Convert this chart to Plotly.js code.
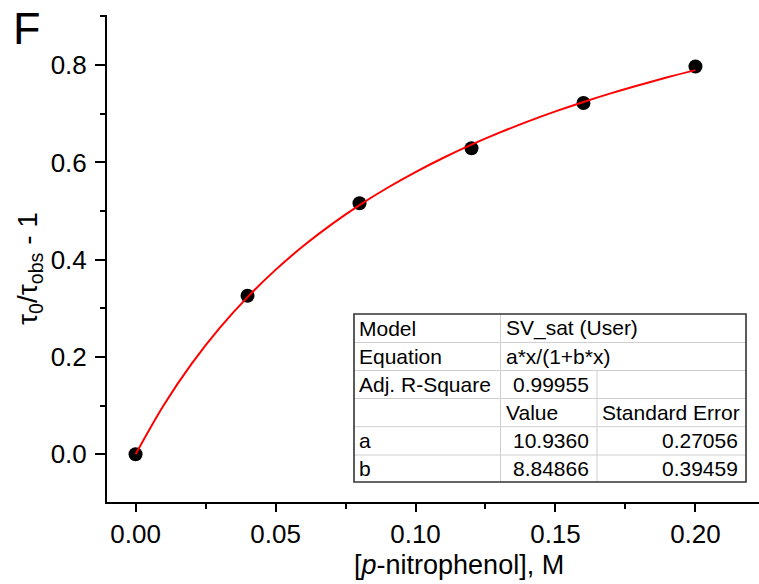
<!DOCTYPE html>
<html>
<head>
<meta charset="utf-8">
<script src="https://cdn.plot.ly/plotly-3.0.1.min.js"></script>
<style>html,body{margin:0;padding:0;background:#fff;}#chart{width:759px;height:584px;}</style>
</head>
<body>
<div id="chart"></div>
<script>
// ---- data ----
const concentration = [0, 0.04, 0.08, 0.12, 0.16, 0.20];
const lifetimeRatio = [0, 0.326, 0.516, 0.629, 0.722, 0.797];

const fitX = [0, 0.01, 0.02, 0.03, 0.04, 0.05, 0.06, 0.07, 0.08, 0.09, 0.10,
              0.11, 0.12, 0.13, 0.14, 0.15, 0.16, 0.17, 0.18, 0.19, 0.20];
const fitY = [0, 0.1005, 0.1858, 0.2593, 0.3231, 0.3791, 0.4286, 0.4727, 0.5123, 0.5479, 0.5802,
              0.6096, 0.6365, 0.6611, 0.6839, 0.7049, 0.7243, 0.7424, 0.7592, 0.7750, 0.7897];

const tableCol1 = ["Model", "Equation", "Adj. R-Square", "", "a", "b"];
const tableCol2 = ["SV_sat (User)", "a*x/(1+b*x)", "0.99955", "Value", "10.9360", "8.84866"];
const tableCol3 = ["", "", "", "Standard Error", "0.27056", "0.39459"];

// ---- layout geometry (pixels) ----
const W = 759, H = 584;
const L = 107, R = 759, T = 15, B = 502;
const px = v => (v - L) / (R - L);
const py = v => (B - v) / (B - T);

const FONT = "Liberation Sans, Arial, sans-serif";

// table geometry
const tLeft = 354, tRight = 746, tCol2 = 500.5, tCol3 = 597;
const rowEdges = [314, 342.5, 370.5, 398.5, 426.7, 455, 482];

const shapes = [];
const annotations = [];
const inner = {color: "#cfcfcf", width: 1};
const outer = {color: "#333333", width: 1.6};
function line(x0, y0, x1, y1, st) {
  shapes.push({type: "line", xref: "paper", yref: "paper",
    x0: px(x0), y0: py(y0), x1: px(x1), y1: py(y1), line: st, layer: "above"});
}
for (let i = 1; i < rowEdges.length - 1; i++) line(tLeft, rowEdges[i], tRight, rowEdges[i], inner);
line(tCol2, rowEdges[0], tCol2, rowEdges[6], inner);
line(tCol3, rowEdges[2], tCol3, rowEdges[6], inner);
shapes.push({type: "rect", xref: "paper", yref: "paper",
  x0: px(tLeft), y0: py(rowEdges[6]), x1: px(tRight), y1: py(rowEdges[0]),
  line: outer, fillcolor: "rgba(0,0,0,0)", layer: "above"});

const isNum = s => /^[0-9.]+$/.test(s);
function cell(text, left, right, r) {
  if (!text) return;
  const yc = (rowEdges[r] + rowEdges[r + 1]) / 2;
  const num = isNum(text);
  annotations.push({xref: "paper", yref: "paper", showarrow: false,
    x: num ? px(right - 6) : px(left + 3), xanchor: num ? "right" : "left",
    y: py(yc), yanchor: "middle", text: text,
    font: {family: FONT, size: 21, color: "#000"}});
}
for (let r = 0; r < 6; r++) {
  cell(tableCol1[r], tLeft, tCol2, r);
  cell(tableCol2[r], tCol2, r < 2 ? tRight : tCol3, r);
  cell(tableCol3[r], tCol3, tRight, r);
}

annotations.push({xref: "paper", yref: "paper", showarrow: false, x: px(27), y: py(29),
  xanchor: "center", yanchor: "middle", text: "F", font: {family: FONT, size: 45, color: "#000"}});
annotations.push({xref: "paper", yref: "paper", showarrow: false, x: px(459), y: py(565),
  xanchor: "center", yanchor: "middle", text: "[<i>p</i>-nitrophenol], M",
  font: {family: FONT, size: 27, color: "#000"}});
annotations.push({xref: "paper", yref: "paper", showarrow: false, x: px(29), y: py(269),
  xanchor: "center", yanchor: "middle", textangle: -90,
  text: "τ<sub>0</sub>/τ<sub>obs</sub> - 1",
  font: {family: FONT, size: 28, color: "#000"}});

const traces = [
  {x: concentration, y: lifetimeRatio, type: "scatter", mode: "markers",
   marker: {color: "#000", size: 14}, hoverinfo: "skip"},
  {x: fitX, y: fitY, type: "scatter", mode: "lines", line: {color: "#ff0000", width: 2, shape: "spline"},
   hoverinfo: "skip"}
];

const axisCommon = {showgrid: false, zeroline: false, showline: true, linecolor: "#000", linewidth: 2,
  ticks: "outside", tickcolor: "#000", tickwidth: 2, tickfont: {family: FONT, size: 26, color: "#000"}};

const layout = {
  width: W, height: H, showlegend: false,
  paper_bgcolor: "#fff", plot_bgcolor: "#fff",
  margin: {l: L, r: W - R, t: T, b: H - B, pad: 0},
  xaxis: Object.assign({}, axisCommon, {range: [-0.0102, 0.2227], dtick: 0.05, tick0: 0, tickformat: ".2f",
    ticklen: 8, minor: {dtick: 0.025, tick0: 0, ticklen: 5, tickwidth: 2, tickcolor: "#000", ticks: "outside"}}),
  yaxis: Object.assign({}, axisCommon, {range: [-0.098, 0.903], dtick: 0.2, tick0: 0, tickformat: ".1f",
    ticklen: 10, ticklabelstandoff: 3,
    minor: {dtick: 0.1, tick0: 0, ticklen: 5, tickwidth: 2, tickcolor: "#000", ticks: "outside"}}),
  shapes: shapes, annotations: annotations
};

Plotly.newPlot("chart", traces, layout, {displayModeBar: false, staticPlot: true});
</script>
</body>
</html>
